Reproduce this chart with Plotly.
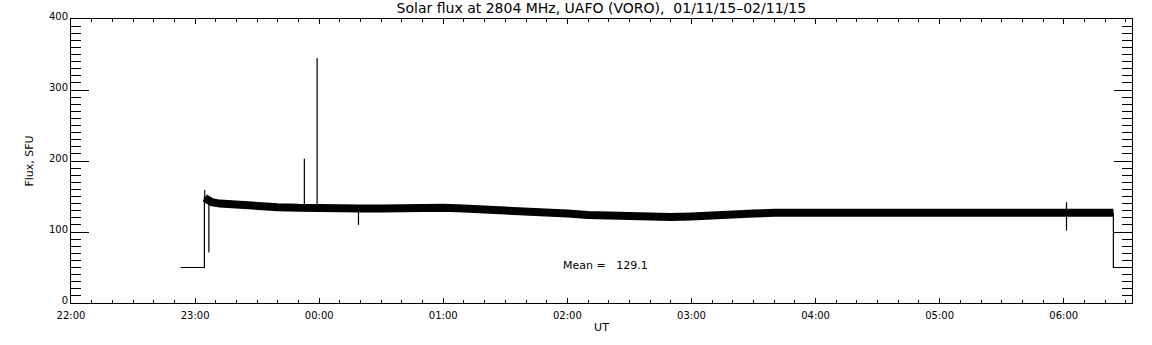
import plotly.graph_objects as go

# Off-sun baseline segments (before and after the solar track)
pre_times = ["2015-11-01 22:53:00", "2015-11-01 23:04:30", "2015-11-01 23:04:30"]
pre_flux = [50, 50, 150]
post_times = ["2015-11-02 06:24:00", "2015-11-02 06:24:00", "2015-11-02 06:33:00"]
post_flux = [127, 50, 50]

# Main (noisy) solar flux track
band_times = [
    "2015-11-01 23:04:40", "2015-11-01 23:06:00", "2015-11-01 23:08:00", "2015-11-01 23:12:00",
    "2015-11-01 23:20:00", "2015-11-01 23:30:00", "2015-11-01 23:40:00", "2015-11-01 23:50:00",
    "2015-11-02 00:00:00", "2015-11-02 00:10:00", "2015-11-02 00:20:00", "2015-11-02 00:30:00",
    "2015-11-02 00:40:00", "2015-11-02 00:50:00", "2015-11-02 01:00:00", "2015-11-02 01:10:00",
    "2015-11-02 01:20:00", "2015-11-02 01:30:00", "2015-11-02 01:40:00", "2015-11-02 01:50:00",
    "2015-11-02 02:00:00", "2015-11-02 02:10:00", "2015-11-02 02:20:00", "2015-11-02 02:30:00",
    "2015-11-02 02:40:00", "2015-11-02 02:50:00", "2015-11-02 03:00:00", "2015-11-02 03:10:00",
    "2015-11-02 03:20:00", "2015-11-02 03:30:00", "2015-11-02 03:40:00", "2015-11-02 03:50:00",
    "2015-11-02 04:00:00", "2015-11-02 04:15:00", "2015-11-02 04:30:00", "2015-11-02 04:45:00",
    "2015-11-02 05:00:00", "2015-11-02 05:15:00", "2015-11-02 05:30:00", "2015-11-02 05:45:00",
    "2015-11-02 06:00:00", "2015-11-02 06:12:00", "2015-11-02 06:24:00",
]
band_flux = [
    148, 145, 142, 140,
    138, 137, 135, 134,
    133, 133, 133, 133,
    134, 135, 134, 133,
    132, 131, 129, 127,
    126, 124, 123, 122,
    121, 121, 122, 124,
    125, 126, 127, 128,
    127, 127, 127, 126,
    126, 125, 125, 126,
    127, 127, 127,
]

# Isolated spikes: time, lower end, upper end
spike_times = ["2015-11-01 23:04:40", "2015-11-01 23:06:40", "2015-11-01 23:52:50",
               "2015-11-01 23:59:00", "2015-11-02 00:19:00", "2015-11-02 06:01:20"]
spike_lo = [140, 71, 133, 132, 110, 102]
spike_hi = [159, 140, 203, 345, 133, 142]

title_text = "Solar flux at 2804 MHz, UAFO (VORO),  01/11/15\u201302/11/15"
mean_text = "Mean =\u00a0\u00a0\u00a0129.1"
x_range = ["2015-11-01 22:00:00", "2015-11-02 06:33:00"]
y_range = [0, 400]

FONT = "DejaVu Sans"

fig = go.Figure()

fig.add_trace(go.Scatter(x=band_times, y=band_flux, mode="lines",
                         line=dict(color="black", width=8), hoverinfo="skip", showlegend=False))
fig.add_trace(go.Scatter(x=pre_times, y=pre_flux, mode="lines",
                         line=dict(color="black", width=1.2), showlegend=False))
fig.add_trace(go.Scatter(x=post_times, y=post_flux, mode="lines",
                         line=dict(color="black", width=1.2), showlegend=False))

sx, sy = [], []
for t, lo, hi in zip(spike_times, spike_lo, spike_hi):
    sx += [t, t, None]
    sy += [lo, hi, None]
fig.add_trace(go.Scatter(x=sx, y=sy, mode="lines",
                         line=dict(color="black", width=1.2), showlegend=False))

# dummy trace for mirrored top/right axes
fig.add_trace(go.Scatter(x=[x_range[0]], y=[0], xaxis="x2", yaxis="y2",
                         mode="markers", marker=dict(opacity=0), showlegend=False, hoverinfo="skip"))

fig.add_annotation(x="2015-11-02 01:57:00", y=53.5, xref="x", yref="y", text=mean_text,
                   showarrow=False, xanchor="left", yanchor="middle",
                   font=dict(family=FONT, size=11, color="black"))

fig.update_layout(
    width=1152, height=345, autosize=False,
    margin=dict(l=71, r=20, t=19, b=42),
    paper_bgcolor="white", plot_bgcolor="white",
    font=dict(family=FONT, size=11, color="black"),
    title=dict(text=title_text, x=0.522, xanchor="center", y=0.976, yanchor="middle",
               font=dict(family=FONT, size=14, color="black")),
    xaxis=dict(range=x_range, type="date", tickformat="%H:%M", dtick=3600000,
               tick0="2015-11-01 22:00:00", automargin=False,
               ticks="inside", ticklen=5, tickcolor="black", tickwidth=1,
               ticklabelstandoff=3,
               showline=True, linecolor="black", linewidth=1, showgrid=False, zeroline=False,
               minor=dict(dtick=600000, ticklen=3, ticks="inside", tickcolor="black", showgrid=False),
               title=dict(text="UT", standoff=3, font=dict(size=11)),
               tickfont=dict(size=10)),
    yaxis=dict(range=y_range, dtick=100, ticks="inside", ticklen=18, tickcolor="black", tickwidth=1,
               showline=True, linecolor="black", linewidth=1, showgrid=False, zeroline=False,
               ticklabelshift=-3, automargin=False,
               minor=dict(dtick=10, ticklen=10, ticks="inside", tickcolor="black", showgrid=False),
               title=dict(text="Flux, SFU", standoff=13, font=dict(size=11)),
               tickfont=dict(size=10)),
    xaxis2=dict(range=x_range, type="date", overlaying="x", side="top", dtick=3600000,
                tick0="2015-11-01 22:00:00", showticklabels=False, automargin=False,
                ticks="inside", ticklen=5, tickcolor="black",
                showline=True, linecolor="black", linewidth=1, showgrid=False, zeroline=False,
                minor=dict(dtick=600000, ticklen=3, ticks="inside", tickcolor="black", showgrid=False)),
    yaxis2=dict(range=y_range, overlaying="y", side="right", dtick=100, showticklabels=False,
                ticks="inside", ticklen=18, tickcolor="black", automargin=False,
                showline=True, linecolor="black", linewidth=1, showgrid=False, zeroline=False,
                minor=dict(dtick=10, ticklen=10, ticks="inside", tickcolor="black", showgrid=False)),
)

fig.write_html("out.html", config={"displayModeBar": False},
               post_script="document.body.style.margin='0';document.body.style.overflow='hidden';")
